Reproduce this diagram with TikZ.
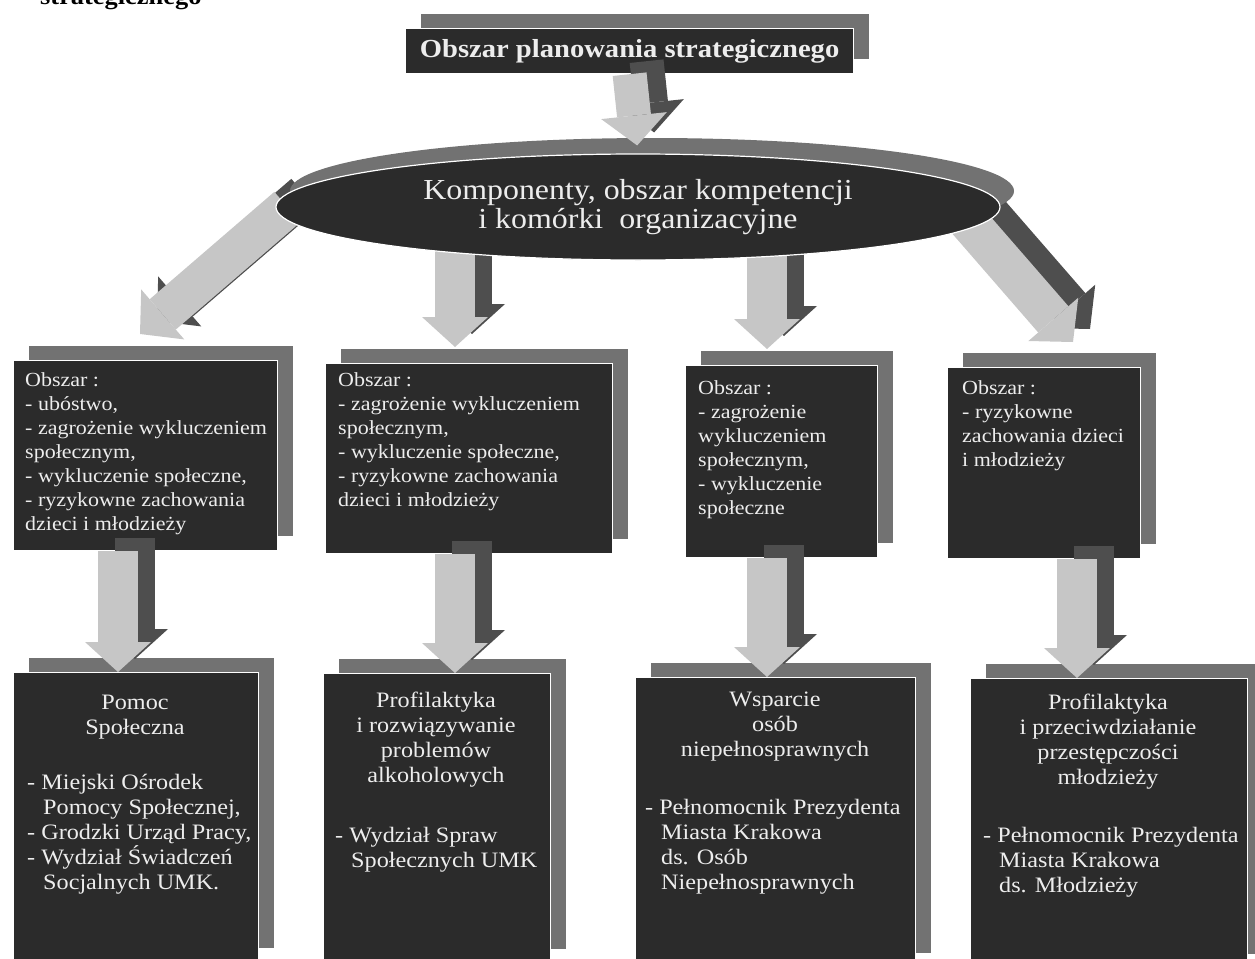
\documentclass[tikz,border=0pt]{standalone}
\usepackage{fontspec}
\setmainfont{Liberation Serif}[FakeStretch=1.1]
\usetikzlibrary{shapes.geometric,arrows.meta,shadows,backgrounds}

\definecolor{boxdark}{HTML}{2B2B2B}
\definecolor{shadegray}{HTML}{727272}
\definecolor{arrowlight}{HTML}{C6C6C6}
\definecolor{arrowdark}{HTML}{4E4E4E}
\definecolor{textlight}{HTML}{EDEDED}

\newcommand{\ind}{\hspace*{16pt}}

\begin{document}
\begin{tikzpicture}[
    x=1pt, y=-1pt,
    panel/.style={draw=white, line width=1.2pt, fill=boxdark, inner sep=0pt, anchor=north west,
        general shadow={fill=shadegray, shadow xshift=15pt, shadow yshift=15pt}},
    oval/.style={ellipse, draw=white, line width=1.2pt, fill=boxdark, inner sep=0pt, align=center,
        minimum width=724pt, minimum height=106pt, text=textlight,
        general shadow={fill=shadegray, shadow xshift=14pt, shadow yshift=16pt}},
    areatext/.style={text=textlight, align=left, anchor=north west, inner sep=0pt, font=\fontsize{20}{24}\selectfont},
    headtext/.style={text=textlight, align=center, anchor=north, inner sep=0pt, font=\fontsize{22}{25}\selectfont},
    listtext/.style={text=textlight, align=left, anchor=north west, inner sep=0pt, font=\fontsize{22}{25}\selectfont},
    blockarrow/.style={line width=40pt, draw=arrowlight, -{Triangle[width=66pt,length=30pt,line width=0pt]}},
    blockshade/.style={blockarrow, draw=arrowdark, transform canvas={xshift=17pt,yshift=13pt}}
]
\useasboundingbox (0,0) rectangle (1255,958);

% Page heading (cut off)
\node[font=\bfseries\fontsize{24}{24}\selectfont, anchor=base west, inner sep=0pt] (naglowek) at (40,5) {strategicznego};

% Title and components
\node[panel, minimum width=448pt, minimum height=45pt, text=textlight, font=\bfseries\fontsize{26}{26}\selectfont] (tytul) at (405,28) {Obszar planowania strategicznego};
\node[oval, font=\fontsize{29}{29}\selectfont] (komponenty) at (638,207) {Komponenty, obszar kompetencji\\i komórki\ \ organizacyjne};

% Areas
\node[panel, minimum width=264pt, minimum height=190pt] (ubostwo) at (13,360) {};
\node[panel, minimum width=287pt, minimum height=190pt] (zagrozenie) at (325,363) {};
\node[panel, minimum width=192pt, minimum height=192pt] (wykluczenie) at (685,365) {};
\node[panel, minimum width=193pt, minimum height=191pt] (ryzyko) at (947,367) {};

\node[areatext] (ubostwotxt) at (25,372) {Obszar :\\- ubóstwo,\\- zagrożenie wykluczeniem\\społecznym,\\- wykluczenie społeczne,\\- ryzykowne zachowania\\dzieci i młodzieży};
\node[areatext] (zagrozenietxt) at (338,372) {Obszar :\\- zagrożenie wykluczeniem\\społecznym,\\- wykluczenie społeczne,\\- ryzykowne zachowania\\dzieci i młodzieży};
\node[areatext] (wykluczenietxt) at (698,380) {Obszar :\\- zagrożenie\\wykluczeniem\\społecznym,\\- wykluczenie\\społeczne};
\node[areatext] (ryzykotxt) at (962,380) {Obszar :\\- ryzykowne\\zachowania dzieci\\i młodzieży};

% Organisational units
\node[panel, minimum width=245pt, minimum height=290pt] (pomoc) at (13,672) {};
\node[panel, minimum width=227pt, minimum height=290pt] (alkohol) at (323,673) {};
\node[panel, minimum width=280pt, minimum height=290pt] (wsparcie) at (635,677) {};
\node[panel, minimum width=277pt, minimum height=290pt] (mlodziez) at (970,678) {};

\node[headtext] (pomochead) at (135,695) {Pomoc\\Społeczna};
\node[listtext] (pomoclist) at (27,774) {- Miejski Ośrodek\\\ind Pomocy Społecznej,\\- Grodzki Urząd Pracy,\\- Wydział Świadczeń\\\ind Socjalnych UMK.};
\node[headtext] (alkoholhead) at (436,692) {Profilaktyka\\i rozwiązywanie\\problemów\\alkoholowych};
\node[listtext] (alkohollist) at (335,827) {- Wydział Spraw\\\ind Społecznych UMK};
\node[headtext] (wsparciehead) at (775,692) {Wsparcie\\osób\\niepełnosprawnych};
\node[listtext] (wsparcielist) at (645,799) {- Pełnomocnik Prezydenta\\\ind Miasta Krakowa\\\ind ds. Osób\\\ind Niepełnosprawnych};
\node[headtext] (mlodziezhead) at (1108,694) {Profilaktyka\\i przeciwdziałanie\\przestępczości\\młodzieży};
\node[listtext] (mlodziezlist) at (983,827) {- Pełnomocnik Prezydenta\\\ind Miasta Krakowa\\\ind ds. Młodzieży};

% Arrow columns and tips
\coordinate (colA) at (118,0);
\coordinate (colB) at (455,0);
\coordinate (colC) at (767,0);
\coordinate (colD) at (1077,0);
\coordinate (tipA) at (140,334);
\coordinate (tipD) at (1073,342);

% Arrows behind the ellipse
\begin{scope}[on background layer]
\draw[blockshade] ([xshift=12pt]komponenty.west) -- (tipA);
\draw[blockarrow] ([xshift=12pt]komponenty.west) -- (tipA);
\draw[blockshade, shorten >=16pt] (colB |- komponenty.center) -- (colB |- zagrozenie.north);
\draw[blockarrow, shorten >=16pt] (colB |- komponenty.center) -- (colB |- zagrozenie.north);
\draw[blockshade, shorten >=16pt] (colC |- komponenty.center) -- (colC |- wykluczenie.north);
\draw[blockarrow, shorten >=16pt] (colC |- komponenty.center) -- (colC |- wykluczenie.north);
\draw[blockshade] ([xshift=-45pt]komponenty.east) -- (tipD);
\draw[blockarrow] ([xshift=-45pt]komponenty.east) -- (tipD);
\end{scope}

% Title arrow
\draw[blockshade, line width=34pt, shorten >=8pt] (tytul.south) -- (komponenty.north);
\draw[blockarrow, line width=34pt, shorten >=8pt] (tytul.south) -- (komponenty.north);

% Areas to units
\draw[blockshade] (colA |- ubostwo.south) -- (colA |- pomoc.north);
\draw[blockarrow] (colA |- ubostwo.south) -- (colA |- pomoc.north);
\draw[blockshade] (colB |- zagrozenie.south) -- (colB |- alkohol.north);
\draw[blockarrow] (colB |- zagrozenie.south) -- (colB |- alkohol.north);
\draw[blockshade] (colC |- wykluczenie.south) -- (colC |- wsparcie.north);
\draw[blockarrow] (colC |- wykluczenie.south) -- (colC |- wsparcie.north);
\draw[blockshade] (colD |- ryzyko.south) -- (colD |- mlodziez.north);
\draw[blockarrow] (colD |- ryzyko.south) -- (colD |- mlodziez.north);

\end{tikzpicture}
\end{document}
